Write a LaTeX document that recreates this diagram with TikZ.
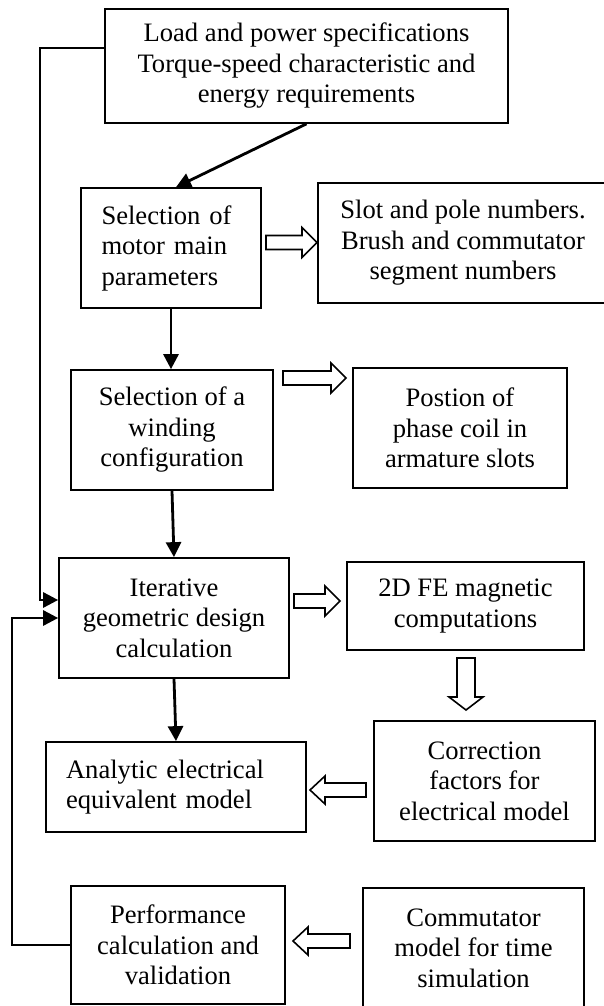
\documentclass[tikz,border=0pt]{standalone}
\usepackage{fontspec}
\setmainfont{Liberation Serif}
\usetikzlibrary{arrows.meta,calc}
\newcommand\hollowR[3]{\draw[hollow] (#1,{#3-7}) -- ({#2-15},{#3-7}) -- ({#2-15},{#3-15}) -- (#2,#3) -- ({#2-15},{#3+15}) -- ({#2-15},{#3+7}) -- (#1,{#3+7}) -- cycle;}
\newcommand\hollowL[3]{\draw[hollow] (#1,{#3-7}) -- ({#2+15},{#3-7}) -- ({#2+15},{#3-14}) -- (#2,#3) -- ({#2+15},{#3+14}) -- ({#2+15},{#3+7}) -- (#1,{#3+7}) -- cycle;}
\newcommand\hollowD[3]{\draw[hollow] ({#1-9},#2) -- ({#1-9},{#3-13}) -- ({#1-17},{#3-13}) -- (#1,#3) -- ({#1+17},{#3-13}) -- ({#1+9},{#3-13}) -- ({#1+9},#2) -- cycle;}
\begin{document}
\begin{tikzpicture}[x=1pt,y=-1pt,
  box/.style={draw,line width=1.7pt,inner sep=0pt,align=center,
    font=\fontsize{26.6pt}{30.5pt}\selectfont},
  conn/.style={line width=2.8pt,-{Triangle[length=15pt,width=15pt]}},
  hollow/.style={draw,line width=1.6pt,fill=white,line join=miter}]
\fill[white] (0,0) rectangle (603,1006);
\useasboundingbox (0,0) rectangle (603,1006);

\node[box,minimum width=403pt,minimum height=114pt] (load) at (306.5,66)
  {Load and power specifications\\Torque-speed characteristic and\\energy requirements};
\node[box,minimum height=120pt,align=left,text width=139pt,inner xsep=20.5pt] (motor) at (171,248)
  {Selection of\\motor main\\parameters};
\node[box,minimum width=290pt,minimum height=120pt] (slot) at (463,243)
  {Slot and pole numbers.\\Brush and commutator\\segment numbers};
\node[box,minimum width=202pt,minimum height=120pt] (wind) at (172,430)
  {Selection of a\\winding\\configuration};
\node[box,minimum width=214pt,minimum height=120pt] (pos) at (460,428)
  {Postion of\\phase coil in\\armature slots};
\node[box,minimum width=230pt,minimum height=120pt] (iter) at (174,618)
  {Iterative\\geometric design\\calculation};
\node[box,minimum width=237pt,minimum height=88pt] (fe) at (465.5,606)
  {2D FE magnetic\\computations};
\node[box,minimum height=90pt,align=left,text width=220pt,inner xsep=20pt] (ana) at (176,787)
  {Analytic electrical\\equivalent model};
\node[box,minimum width=221pt,minimum height=120pt] (corr) at (484.5,781)
  {Correction\\factors for\\electrical model};
\node[box,minimum width=214pt,minimum height=118pt] (perf) at (178,945)
  {Performance\\calculation and\\validation};
\node[box,minimum width=221pt,minimum height=120pt] (comm) at (473.5,948)
  {Commutator\\model for time\\simulation};

\draw[conn] (load.south) -- ([xshift=5pt]motor.north);
\draw[conn] (motor.south) -- (motor.south |- wind.north);
\draw[conn] (wind.south) -- (iter.north);
\draw[conn] (iter.south) -- (ana.north);

\coordinate (fbA) at (40,600);
\coordinate (fbB) at (12,618);
\draw[conn] ([yshift=18pt]load.west) -| (fbA) -- ([yshift=18pt]iter.west);
\draw[conn] (perf.west) -| (fbB) -- (iter.west);

\hollowR{266}{317}{242.5}
\hollowR{283}{346}{378}
\hollowR{294}{340}{601}
\hollowD{466}{658}{710}
\hollowL{366}{310}{790}
\hollowL{350}{293}{941}
\end{tikzpicture}
\end{document}
